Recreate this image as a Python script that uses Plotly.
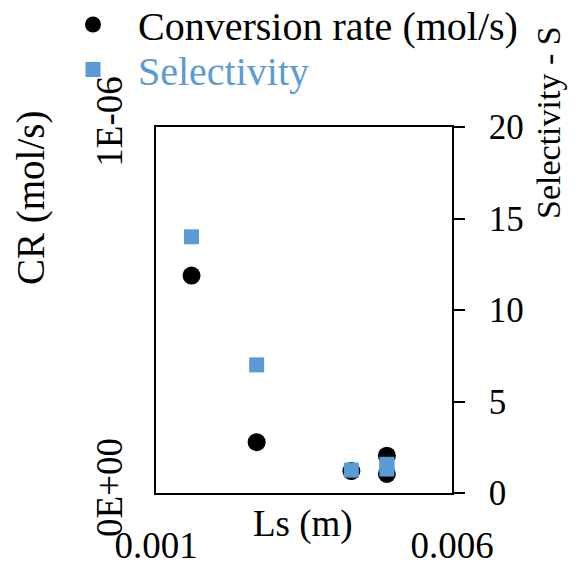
import plotly.graph_objects as go

# Data
ls_cr = [0.0016, 0.0027, 0.0043, 0.0049, 0.0049]
cr = [5.94e-7, 1.39e-7, 6.0e-8, 1.02e-7, 5.2e-8]
ls_s = [0.0016, 0.0027, 0.0043, 0.0049, 0.0049]
sel = [14.0, 7.0, 1.25, 1.57, 1.31]

x_ticks = [0.001, 0.006]
x_ticktext = ["0.001", "0.006"]
cr_ticks = [0, 1e-6]
cr_ticktext = ["0E+00", "1E-06"]
s_ticks = [0, 5, 10, 15, 20]

BLUE = "#5B9BD5"
FONT = "Liberation Serif"

OFF = 8  # page body margin
W, H = 577 - OFF, 571 - OFF
# plot area in page pixels: x 156..452, y 127..493
PL, PR, PT, PB = 156, 452, 127, 493
L, R, T, B = PL - OFF, W - (PR - OFF), PT - OFF, H - (PB - OFF)
PW, PH = PR - PL, PB - PT


def px(xp):
    return (xp - PL) / PW


def py(yp):
    return (PB - yp) / PH


fig = go.Figure()
fig.add_trace(go.Scatter(
    x=ls_cr, y=cr, mode="markers", name="Conversion rate (mol/s)",
    marker=dict(symbol="circle", size=18, color="black"),
    yaxis="y", legend="legend"))
fig.add_trace(go.Scatter(
    x=ls_s, y=sel, mode="markers",
    name="<span style='color:%s'>Selectivity</span>" % BLUE,
    marker=dict(symbol="square", size=15, color=BLUE),
    yaxis="y2", legend="legend2"))

leg_common = dict(xanchor="left", yanchor="top",
                  font=dict(family=FONT, size=40, color="black"),
                  bgcolor="rgba(0,0,0,0)", itemwidth=80)

fig.update_layout(
    width=W, height=H,
    margin=dict(l=L, r=R, t=T, b=B, autoexpand=False),
    paper_bgcolor="white", plot_bgcolor="white",
    font=dict(family=FONT, size=34, color="black"),
    showlegend=True,
    legend=dict(x=px(48), y=py(-8), **leg_common),
    legend2=dict(x=px(48), y=py(37), **leg_common),
    xaxis=dict(range=[0.001, 0.006], tickvals=x_ticks, ticktext=x_ticktext,
               showline=True, mirror=True, linecolor="black", linewidth=1.5,
               showgrid=False, zeroline=False, ticks="",
               ticklabelstandoff=19, tickfont=dict(size=37)),
    yaxis=dict(range=[0, 1e-6], tickvals=cr_ticks, ticktext=cr_ticktext,
               showline=True, mirror=True, linecolor="black", linewidth=1.5,
               showgrid=False, zeroline=False, ticks="", tickangle=-90,
               ticklabelstandoff=17, tickfont=dict(size=37)),
    yaxis2=dict(range=[0, 20], tickvals=s_ticks, overlaying="y", side="right",
                showline=True, linecolor="black", linewidth=1.5,
                showgrid=False, zeroline=False, ticks="outside", ticklen=11,
                tickwidth=1.5, tickcolor="black",
                ticklabelstandoff=17, tickfont=dict(size=35)),
    annotations=[
        dict(text="CR (mol/s)", xref="paper", yref="paper", x=px(31), y=py(198),
             textangle=-90, showarrow=False, font=dict(size=39),
             xanchor="center", yanchor="middle"),
        dict(text="Selectivity - S", xref="paper", yref="paper", x=px(548), y=py(123),
             textangle=-90, showarrow=False, font=dict(size=34),
             xanchor="center", yanchor="middle"),
        dict(text="Ls (m)", xref="paper", yref="paper", x=px(303), y=py(524),
             showarrow=False, font=dict(size=37),
             xanchor="center", yanchor="middle"),
    ],
)

fig.write_html("out.html")
